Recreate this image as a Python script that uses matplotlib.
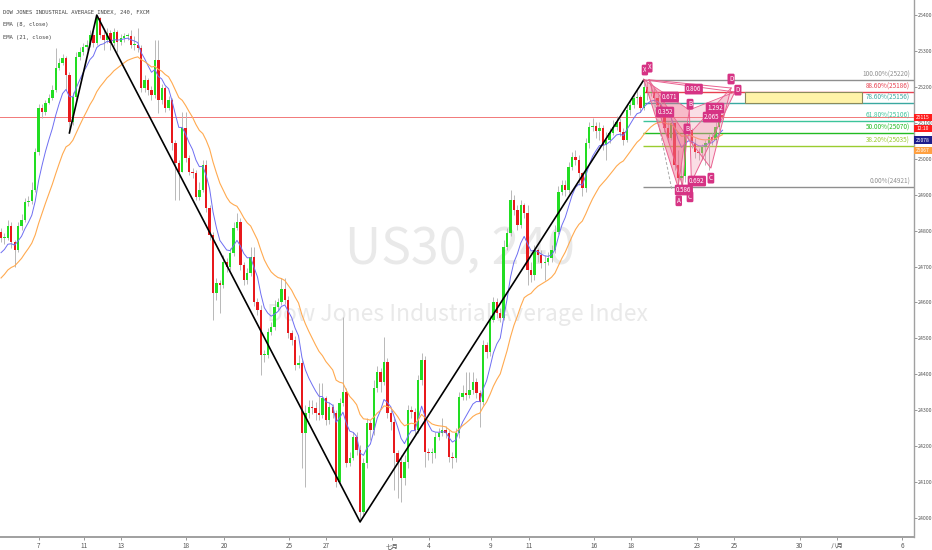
import numpy as np
import matplotlib
matplotlib.use('Agg')
import matplotlib.pyplot as plt
from matplotlib.patches import Rectangle, Polygon
from matplotlib.transforms import blended_transform_factory

plt.rcParams['font.family'] = ['Noto Sans CJK SC', 'DejaVu Sans']

# ===== Data (US30, 4h candles) ===== #

first_open = 24796

closes = [
    24779, 24779, 24813, 24768, 24746, 24813, 24829, 24880, 24883, 24913,
    25019, 25141, 25130, 25155, 25169, 25191, 25252, 25266, 25280, 25233,
    25102, 25172, 25283, 25297, 25311, 25316, 25344, 25322, 25392, 25344,
    25330, 25350, 25322, 25353, 25325, 25336, 25342, 25342, 25316, 25316,
    25308, 25197, 25219, 25191, 25177, 25275, 25163, 25197, 25141, 25163,
    25044, 24988, 24963, 25086, 25002, 24963, 24960, 24894, 24913, 24983,
    24863, 24788, 24626, 24654, 24649, 24713, 24699, 24738, 24807, 24824,
    24704, 24662, 24682, 24727, 24601, 24579, 24454, 24454, 24518, 24532,
    24587, 24601, 24638, 24607, 24515, 24496, 24426, 24432, 24237, 24292,
    24309, 24306, 24292, 24287, 24334, 24273, 24309, 24292, 24100, 24320,
    24351, 24153, 24167, 24226, 24189, 24017, 24153, 24264, 24245, 24362,
    24407, 24379, 24434, 24292, 24267, 24181, 24156, 24111, 24156, 24301,
    24295, 24245, 24384, 24440, 24184, 24181, 24181, 24226, 24237, 24245,
    24237, 24170, 24167, 24237, 24337, 24348, 24342, 24356, 24379, 24348,
    24323, 24482, 24462, 24551, 24601, 24571, 24557, 24754, 24793, 24885,
    24858, 24815, 24871, 24849, 24690, 24676, 24746, 24732, 24710, 24713,
    24724, 24746, 24796, 24908, 24927, 24913, 24977, 25005, 24997, 24960,
    24919, 25044, 25088, 25091, 25077, 25086, 25038, 25052, 25072, 25088,
    25102, 25075, 25052, 25136, 25150, 25169, 25172, 25141, 25200, 25183,
    25186, 25169, 25150, 25116, 25086, 25058, 25100, 24983, 24946, 24952,
    25075, 25080, 25044, 25019, 25016, 25033, 25044, 25061, 25052, 25088,
    25122, 25115,
]

highs = [
    24807, 24793, 24829, 24824, 24774, 24824, 24846, 24891, 24896, 24935,
    25030, 25152, 25152, 25163, 25180, 25205, 25308, 25280, 25291, 25286,
    25241, 25186, 25297, 25311, 25322, 25330, 25358, 25358, 25400, 25395,
    25358, 25364, 25358, 25364, 25358, 25347, 25350, 25350, 25358, 25342,
    25364, 25316, 25233, 25225, 25202, 25330, 25330, 25208, 25202, 25175,
    25169, 25052, 24997, 25130, 25130, 25011, 24974, 24969, 24935, 24997,
    24997, 24871, 24796, 24668, 24662, 24732, 24724, 24751, 24824, 24849,
    24835, 24713, 24696, 24754, 24754, 24612, 24593, 24468, 24529, 24546,
    24607, 24612, 24668, 24668, 24618, 24523, 24507, 24454, 24440, 24315,
    24329, 24329, 24323, 24376, 24376, 24340, 24323, 24317, 24301, 24334,
    24560, 24362, 24184, 24239, 24239, 24203, 24167, 24278, 24273, 24384,
    24423, 24418, 24504, 24445, 24301, 24278, 24189, 24175, 24175, 24315,
    24312, 24306, 24398, 24460, 24451, 24195, 24195, 24239, 24251, 24278,
    24256, 24245, 24184, 24251, 24351, 24370, 24407, 24407, 24407, 24390,
    24356, 24496, 24490, 24565, 24615, 24612, 24585, 24774, 24807, 24913,
    24899, 24871, 24885, 24877, 24871, 24713, 24760, 24751, 24746, 24732,
    24740, 24760, 24815, 24924, 24941, 24941, 24991, 25019, 25024, 25011,
    24963, 25058, 25102, 25114, 25102, 25102, 25094, 25075, 25086, 25108,
    25119, 25114, 25086, 25150, 25163, 25180, 25191, 25177, 25220, 25214,
    25208, 25197, 25177, 25163, 25122, 25102, 25114, 25102, 25024, 24983,
    25094, 25102, 25086, 25058, 25030, 25041, 25052, 25069, 25072, 25102,
    25141, 25127,
]

lows = [
    24768, 24763, 24774, 24751, 24699, 24740, 24802, 24824, 24869, 24874,
    24908, 25011, 25114, 25122, 25152, 25163, 25186, 25247, 25261, 25191,
    25072, 25094, 25163, 25275, 25289, 25303, 25311, 25311, 25316, 25336,
    25303, 25322, 25303, 25314, 25297, 25316, 25325, 25330, 25308, 25303,
    25297, 25186, 25186, 25177, 25163, 25169, 25127, 25152, 25130, 25136,
    25024, 24885, 24885, 24963, 24991, 24955, 24946, 24885, 24885, 24908,
    24852, 24774, 24551, 24607, 24571, 24640, 24685, 24690, 24729, 24802,
    24690, 24649, 24652, 24674, 24590, 24565, 24398, 24434, 24445, 24509,
    24523, 24579, 24593, 24596, 24501, 24482, 24412, 24418, 24139, 24086,
    24278, 24290, 24273, 24273, 24278, 24259, 24262, 24278, 24086, 24092,
    24312, 24142, 24145, 24162, 24175, 23989, 24008, 24139, 24217, 24231,
    24351, 24351, 24370, 24278, 24245, 24078, 24056, 24045, 24092, 24139,
    24278, 24231, 24237, 24370, 24142, 24162, 24153, 24167, 24217, 24228,
    24223, 24156, 24139, 24156, 24223, 24329, 24329, 24334, 24345, 24334,
    24253, 24315, 24445, 24451, 24546, 24557, 24546, 24551, 24746, 24785,
    24843, 24802, 24807, 24835, 24649, 24657, 24662, 24713, 24696, 24662,
    24704, 24713, 24738, 24790, 24899, 24896, 24905, 24969, 24983, 24927,
    24896, 24908, 25030, 25077, 25058, 25052, 25024, 24997, 25044, 25066,
    25080, 25063, 25038, 25047, 25122, 25141, 25152, 25130, 25136, 25163,
    25175, 25158, 25136, 25102, 25075, 25047, 25052, 24969, 24921, 24927,
    24935, 25052, 25030, 25002, 24997, 24997, 24983, 24969, 25038, 25038,
    25080, 25108,
]

# EMA values just before the first visible bar
ema_seed_fast = 24727
ema_seed_slow = 24657

# x axis: dates and the bar they sit on
date_labels = ['7', '11', '13', '18', '20', '25', '27', '七月', '4', '9',
               '11', '16', '18', '23', '25', '30', '八月', '6']
date_bars = [11.1, 24.3, 35.1, 54.1, 65.2, 84.2, 95.0, 114.3, 125.1, 143.3,
             154.4, 173.4, 184.2, 203.5, 214.3, 233.6, 244.4, 263.5]

price_ticks = list(range(24000, 25401, 100))

# zigzag swing line
zigzag_bars = [20, 28, 105, 188]
zigzag_prices = [25072, 25400, 23989, 25220]

# fibonacci retracement
fib_levels = [1.0, 0.886, 0.786, 0.618, 0.5, 0.382, 0.0]
fib_high = 25220
fib_low = 24921
fib_start_bar = 187.7

# harmonic patterns X, A, B, C, D
p1_bars = [188.0, 198.0, 201.3, 201.9, 214.6]
p1_prices = [25220, 24921, 25136, 24935, 25186]
p2_bars = [189.5, 199.3, 200.6, 207.6, 213.5]
p2_prices = [25220, 24925, 25061, 24974, 25197]

dash_bars = [191.2, 196.2]
dash_prices = [25150, 24913]

point_texts = ['X', 'X', 'A', 'B', 'B', 'C', 'C', 'D', 'D']
point_bars = [188.3, 189.6, 198.2, 201.5, 200.6, 201.5, 207.6, 213.5, 215.5]
point_prices = [25247, 25255, 24883, 25152, 25083, 24894, 24946, 25222, 25191]

ratio_texts = ['0.671', '0.806', '0.352', '1.292', '2.065', '0.586', '0.692']
ratio_bars = [195.6, 202.6, 194.2, 208.8, 207.9, 199.7, 203.5]
ratio_prices = [25172, 25194, 25130, 25141, 25116, 24913, 24938]

# projected reversal zone box
box_bars = [217.5, 251.8]
box_prices = [25156, 25186]

# right-hand price tags
tag_texts = ['25115', '12:10', '25078', '25067']
tag_colors = ['#ff1c1c', '#ff1c1c', '#1e1e8c', '#ffa040']
tag_y = [25115, 25084, 25052, 25023]


# ===== Derived series ===== #

n = len(closes)
bars = np.arange(n)
opens = [first_open] + closes[:-1]


def ema(values, span, seed):
    alpha = 2.0 / (span + 1)
    out = []
    prev = seed
    for v in values:
        prev = alpha * v + (1 - alpha) * prev
        out.append(prev)
    return out


ema_fast = ema(closes, 8, ema_seed_fast)
ema_slow = ema(closes, 21, ema_seed_slow)


# ===== Figure ===== #

fig = plt.figure(figsize=(9.32, 5.5), dpi=100)
ax = fig.add_axes([0, 13 / 550, 914 / 932, 537 / 550])
xmax = 267.0
ax.set_xlim(-0.3, xmax)
ax.set_ylim(23947, 25442)

# watermark
ax.text(0.503, 0.535, 'US30, 240', transform=ax.transAxes, ha='center', va='center',
        fontsize=36, color='#e9e9e9', zorder=0)
ax.text(0.5, 0.415, 'Dow Jones Industrial Average Index', transform=ax.transAxes,
        ha='center', va='center', fontsize=16.5, color='#e9e9e9', zorder=0)

# current price line
ax.axhline(closes[-1], color='#f27878', lw=0.7, zorder=1)

# fib levels
fib_colors = ['#8f8f8f', '#e8404f', '#3aa8a0', '#3cc49a', '#22bb22', '#9acc30', '#8f8f8f']
for lvl, col in zip(fib_levels, fib_colors):
    price = fib_low + lvl * (fib_high - fib_low)
    ax.hlines(price, fib_start_bar, xmax, color=col, lw=1.0, zorder=1.5)
    ax.text(265.9, price + 4, f'{lvl * 100:.2f}%({price:.0f})', ha='right', va='bottom',
            fontsize=4.6, color=col, zorder=6)

# candles
up = [c >= o for o, c in zip(opens, closes)]
body_colors = ['#22dd22' if u else '#e8191c' for u in up]
bottoms = [min(o, c) for o, c in zip(opens, closes)]
heights = [max(abs(c - o), 2.5) for o, c in zip(opens, closes)]
ax.vlines(bars, lows, highs, color='#b8b8b8', lw=0.7, zorder=2)
ax.bar(bars, heights, bottom=bottoms, width=0.7, color=body_colors, lw=0, zorder=3)

# EMAs
ax.plot(bars, ema_fast, color='#6e6ef2', lw=0.7, zorder=3.5)
ax.plot(bars, ema_slow, color='#ffaa50', lw=0.8, zorder=3.5)

# zigzag
ax.plot(zigzag_bars, zigzag_prices, color='black', lw=1.2, zorder=4)

# PRZ box
ax.add_patch(Rectangle((box_bars[0], box_prices[0]), box_bars[1] - box_bars[0],
                       box_prices[1] - box_prices[0], fc='#fff3a8', ec='#8a8a5c',
                       lw=0.8, zorder=4))

# harmonic patterns
for pb, pp, a1, a2 in [(p1_bars, p1_prices, 0.45, 0.28), (p2_bars, p2_prices, 0.35, 0.25)]:
    pts = list(zip(pb, pp))
    ax.add_patch(Polygon(pts[0:3], closed=True, fc='#ee6a88', alpha=a1, ec='none', zorder=5))
    ax.add_patch(Polygon(pts[2:5], closed=True, fc='#f08aa4', alpha=a2, ec='none', zorder=5))
    ax.plot(pb, pp, color='#ea6190', lw=0.7, zorder=5.2)
    ax.plot([pb[0], pb[4]], [pp[0], pp[4]], color='#ea6190', lw=0.7, zorder=5.2)
    ax.plot([pb[0], pb[2]], [pp[0], pp[2]], color='#ea6190', lw=0.6, zorder=5.2)
    ax.plot([pb[2], pb[4]], [pp[2], pp[4]], color='#ea6190', lw=0.6, zorder=5.2)
ax.plot(dash_bars, dash_prices, color='#aaaaaa', lw=0.7, ls=(0, (3, 2)), zorder=5.1)

label_box = dict(boxstyle='round,pad=0.22', fc='#d63384', ec='none')
for t, b, p in zip(point_texts, point_bars, point_prices):
    ax.text(b, p, t, ha='center', va='center', fontsize=4.5, color='white',
            bbox=label_box, zorder=6)
for t, b, p in zip(ratio_texts, ratio_bars, ratio_prices):
    ax.text(b, p, t, ha='center', va='center', fontsize=4.5, color='white',
            bbox=label_box, zorder=6)

# legend, top left
legend_lines = ['DOW JONES INDUSTRIAL AVERAGE INDEX, 240, FXCM', 'EMA (8, close)', 'EMA (21, close)']
for k, line in enumerate(legend_lines):
    ax.text(0.003, 0.976 - k * 0.0225, line, transform=ax.transAxes, ha='left', va='center',
            fontsize=4.0, family='DejaVu Sans Mono', color='#444444', zorder=7)

# price tags on the right axis
tr = blended_transform_factory(ax.transAxes, ax.transData)
for t, col, y in zip(tag_texts, tag_colors, tag_y):
    ax.add_patch(Rectangle((1.0, y - 10), 18 / 914, 20, transform=tr, fc=col, ec='none',
                           clip_on=False, zorder=8))
    ax.text(1.0 + 9 / 914, y, t, transform=tr, ha='center', va='center', fontsize=3.6,
            color='white', clip_on=False, zorder=9)

# axes styling
ax.yaxis.tick_right()
ax.set_yticks(price_ticks)
ax.set_yticklabels([str(p) for p in price_ticks])
ax.tick_params(axis='y', length=2, width=0.6, color='#888888', labelsize=3.8,
               labelcolor='#555555', pad=1.0)
ax.set_xticks(date_bars)
ax.set_xticklabels(date_labels)
ax.tick_params(axis='x', length=2, width=0.6, color='#888888', labelsize=4.6,
               labelcolor='#555555', pad=1.5)
for s in ['top', 'left']:
    ax.spines[s].set_visible(False)
ax.spines['bottom'].set_color('#a0a0a0')
ax.spines['bottom'].set_linewidth(1.4)
ax.spines['right'].set_color('#a0a0a0')
ax.spines['right'].set_linewidth(1.0)

fig.savefig('out.png', dpi=100)
